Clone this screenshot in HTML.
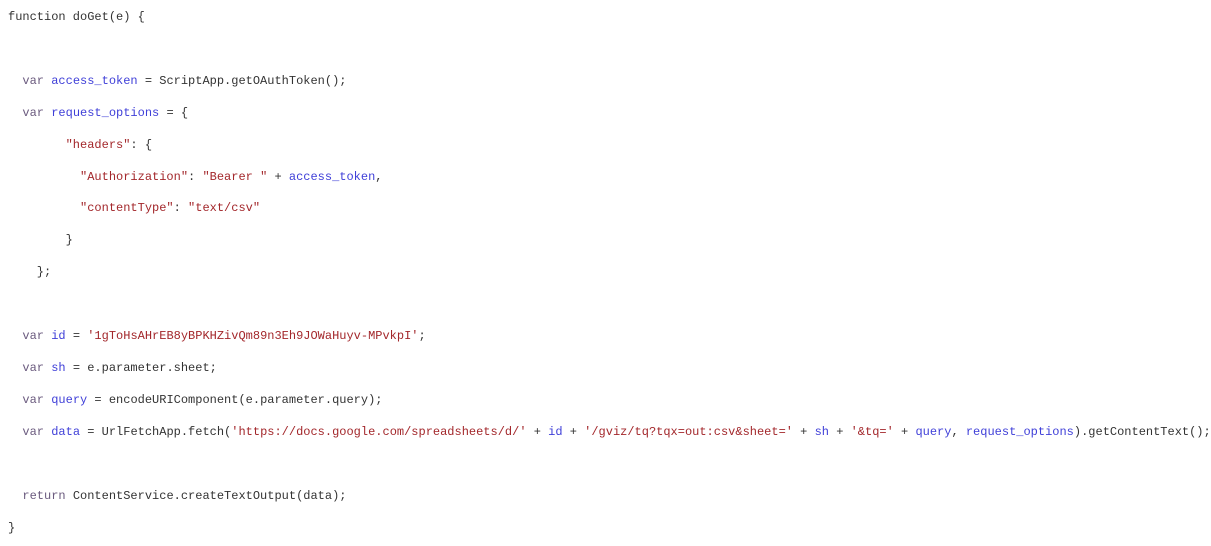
<!DOCTYPE html>
<html><head><meta charset="utf-8"><style>
html,body{margin:0;padding:0;background:#fff;width:1211px;height:546px;overflow:hidden}
pre{margin:0;padding:2px 0 0 8px;font-family:"Liberation Mono",monospace;font-size:12px;line-height:31.9px;color:#333;white-space:pre}
.k{color:#6a5a7e}.v{color:#3f3fd8}.s{color:#a3272b}
</style></head><body><pre>function doGet(e) {

  <span class="k">var</span> <span class="v">access_token</span> = ScriptApp.getOAuthToken();
  <span class="k">var</span> <span class="v">request_options</span> = {
        <span class="s">"headers"</span>: {
          <span class="s">"Authorization"</span>: <span class="s">"Bearer "</span> + <span class="v">access_token</span>,
          <span class="s">"contentType"</span>: <span class="s">"text/csv"</span>
        }
    };

  <span class="k">var</span> <span class="v">id</span> = <span class="s">'1gToHsAHrEB8yBPKHZivQm89n3Eh9JOWaHuyv-MPvkpI'</span>;
  <span class="k">var</span> <span class="v">sh</span> = e.parameter.sheet;
  <span class="k">var</span> <span class="v">query</span> = encodeURIComponent(e.parameter.query);
  <span class="k">var</span> <span class="v">data</span> = UrlFetchApp.fetch(<span class="s">'https://docs.google.com/spreadsheets/d/'</span> + <span class="v">id</span> + <span class="s">'/gviz/tq?tqx=out:csv&amp;sheet='</span> + <span class="v">sh</span> + <span class="s">'&amp;tq='</span> + <span class="v">query</span>, <span class="v">request_options</span>).getContentText();

  <span class="k">return</span> ContentService.createTextOutput(data);
}</pre></body></html>
